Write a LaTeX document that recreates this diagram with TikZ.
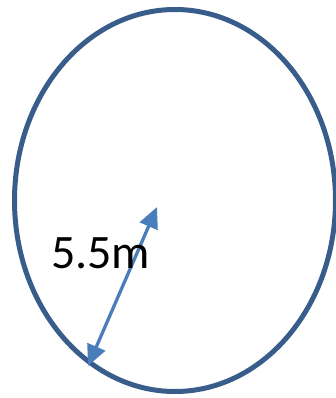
\documentclass[tikz,border=0pt]{standalone}
\usepackage{fontspec}
\setmainfont{Carlito}
\usetikzlibrary{arrows.meta}

\definecolor{rimblue}{HTML}{385D8A}
\definecolor{arrblue}{HTML}{4A7EBB}

\begin{document}
\begin{tikzpicture}[x=1pt,y=-1pt,line cap=round,line join=round]

% -----------------------
% Frame
% -----------------------
\useasboundingbox (0,0) rectangle (336,398);

% Ellipse
\draw[rimblue,line width=5pt] (175,200.5) ellipse [x radius=160.5, y radius=191];

% Radius
\coordinate (mid) at (157,207);
\coordinate (rim) at (88,366);
\draw[arrblue,line width=3.3pt,{Triangle[width=19pt,length=21pt]}-{Triangle[width=19pt,length=21pt]}] (rim) -- (mid);

% Label
\node[anchor=base west,inner sep=0pt,font=\fontsize{48}{52}\selectfont] (len) at (51,268) {5.5m};

\end{tikzpicture}
\end{document}
